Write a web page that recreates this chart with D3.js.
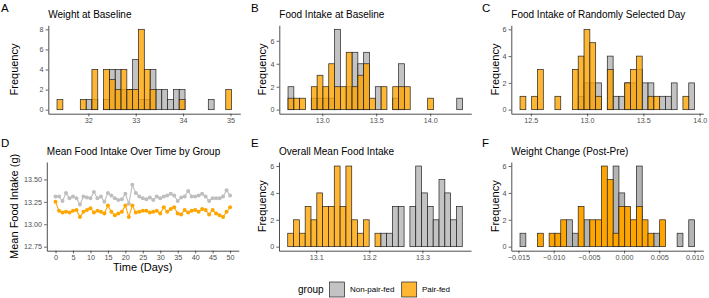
<!DOCTYPE html>
<html>
<head>
<meta charset="utf-8">
<script src="https://cdn.jsdelivr.net/npm/d3@7"></script>
<style>
  body { margin: 0; background: #fff; }
  svg { display: block; font-family: "Liberation Sans", Arial, sans-serif; }
</style>
</head>
<body>
<svg id="chart" width="709" height="298"></svg>
<script>
// ---------- data ----------
const groupNames = ['Non-pair-fed', 'Pair-fed'];

// A  weight at baseline: 30 bins, [left edge of first bin, bin width]
const weightBin = [31.339, 0.1228];
const weightPair    = [1,0,0,0,1,0,4,0,4,3,2,4,2,2,8,4,2,0,0,0,0,1,0,0,0,0,0,0,0,2];
const weightNonPair = [0,0,0,0,0,1,1,0,1,4,4,2,2,5,1,1,4,2,2,1,2,2,0,0,0,0,1,0,0,0];
const weightTicks = [32, 33, 34, 35];

// B  food intake at baseline
const baseBin = [12.683, 0.0539];
const basePair    = [1,1,1,0,2,3,2,4,2,2,5,2,3,4,1,0,2,0,2,2,2,0,0,0,1,0,0,0,0,0];
const baseNonPair = [2,0,0,0,1,1,1,1,7,0,2,5,4,5,0,2,0,0,1,4,0,0,0,0,0,0,0,0,0,1];
const baseTicks = [13.0, 13.5, 14.0];

// C  food intake of a randomly selected day
const dayBin = [12.404, 0.0517];
const dayPair    = [1,0,1,3,0,0,1,0,0,3,4,6,5,1,0,3,0,0,2,3,4,0,1,1,0,0,0,0,1,0];
const dayNonPair = [0,0,0,0,0,0,0,0,0,0,1,2,2,2,0,4,1,1,2,2,3,2,2,0,1,1,2,0,0,2];
const dayTicks = [12.5, 13.0, 13.5, 14.0];

// D  mean food intake per day, days 0..50
const days = d3.range(0, 51);
const meanNonPair = [13.31,13.31,13.26,13.35,13.29,13.31,13.29,13.22,13.31,13.30,
                     13.29,13.36,13.29,13.31,13.25,13.35,13.32,13.29,13.27,13.28,
                     13.34,13.23,13.44,13.35,13.31,13.29,13.28,13.30,13.27,13.31,
                     13.29,13.31,13.32,13.34,13.32,13.26,13.30,13.31,13.37,13.31,
                     13.31,13.32,13.34,13.31,13.26,13.29,13.29,13.29,13.31,13.38,13.32];
const meanPair    = [13.25,13.15,13.13,13.14,13.13,13.15,13.16,13.08,13.14,13.16,
                     13.18,13.13,13.15,13.14,13.12,13.21,13.14,13.10,13.12,13.14,
                     13.21,13.08,13.21,13.13,13.14,13.15,13.15,13.13,13.14,13.15,
                     13.12,13.19,13.14,13.17,13.19,13.12,13.11,13.16,13.13,13.15,
                     13.16,13.14,13.17,13.16,13.11,13.16,13.12,13.10,13.08,13.14,13.19];
const timeLimits = [12.75, 13.65];
const timeYTicks = [12.75, 13.00, 13.25, 13.50];
const timeXTicks = d3.range(0, 51, 5);

// E  overall mean food intake
const overallBin = [13.0463, 0.01096];
const overallPair    = [1,2,1,3,2,4,3,3,6,3,6,2,1,2,0,1,0,0,0,0,0,0,0,0,0,0,0,0,0,0];
const overallNonPair = [0,0,0,0,0,0,0,0,0,0,0,0,0,0,0,0,1,1,3,3,0,3,6,4,3,2,5,4,2,3];
const overallTicks = [13.1, 13.2, 13.3];

// F  weight change (post - pre)
const changeBin = [-0.014773, 0.000826];
const changePair    = [0,0,0,1,0,1,1,2,0,0,3,0,2,2,6,5,1,3,3,2,3,2,1,0,2,0,0,0,0,0];
const changeNonPair = [1,0,0,0,0,0,0,0,2,1,0,2,0,0,0,0,6,4,0,0,6,0,0,1,0,0,0,1,0,2];
const changeTicks = [-0.015, -0.010, -0.005, 0.000, 0.005, 0.010];

// ---------- drawing ----------
const svg = d3.select('#chart');
const ORANGE = '#FFA500', GREY = '#B4B4B4';
const tickCol = '#4D4D4D';
const PW = 192; // panel width
const ALPHA = 0.8;

function styleAxis(ax) {
  ax.select('.domain').attr('stroke', '#222').attr('stroke-width', 0.8);
  ax.selectAll('.tick line').attr('stroke', '#222').attr('stroke-width', 0.7);
  ax.selectAll('.tick text').attr('fill', tickCol).attr('font-size', 7.2)
    .attr('font-family', '"Liberation Sans", Arial, sans-serif');
}

function panelText(letter, title, ylab, left, top, h, lx, lyBase, ylabX) {
  svg.append('text').attr('x', lx).attr('y', lyBase).attr('font-size', 11.5).text(letter);
  svg.append('text').attr('x', left).attr('y', top - 7).attr('font-size', 10).text(title);
  svg.append('text')
    .attr('transform', `translate(${ylabX},${top + h / 2}) rotate(-90)`)
    .attr('text-anchor', 'middle').attr('font-size', 11).text(ylab);
}

function histogram(p) {
  const n = p.pair.length;
  const lo = p.bin[0], hi = p.bin[0] + n * p.bin[1];
  const pad = (hi - lo) * 0.05;
  const ymax = d3.max(p.pair.concat(p.nonPair));
  const x = d3.scaleLinear().domain([lo - pad, hi + pad]).range([0, PW]);
  const y = d3.scaleLinear().domain([-ymax * 0.05, ymax * 1.05]).range([p.h, 0]);
  const g = svg.append('g').attr('transform', `translate(${p.left},${p.top})`);

  [[p.nonPair, GREY], [p.pair, ORANGE]].forEach(([counts, col]) => {
    g.append('g').selectAll('rect')
      .data(counts.map((c, i) => ({ c, i })).filter(d => d.c > 0))
      .join('rect')
      .attr('x', d => x(lo + d.i * p.bin[1]))
      .attr('width', d => x(lo + (d.i + 1) * p.bin[1]) - x(lo + d.i * p.bin[1]))
      .attr('y', d => y(d.c))
      .attr('height', d => y(0) - y(d.c))
      .attr('fill', col).attr('fill-opacity', p.alpha)
      .attr('stroke', '#222').attr('stroke-width', 0.7);
  });

  const xa = g.append('g').attr('transform', `translate(0,${p.h})`)
    .call(d3.axisBottom(x).tickValues(p.ticks).tickSize(2.7).tickPadding(2)
      .tickFormat(p.fmt).tickSizeOuter(0));
  const ya = g.append('g')
    .call(d3.axisLeft(y).tickValues(d3.range(0, ymax + 1, 2)).tickSize(2.7).tickPadding(2)
      .tickFormat(d3.format('d')).tickSizeOuter(0));
  styleAxis(xa); styleAxis(ya);
}

const row1 = { top: 25.3, h: 88.4 };
const row2 = { top: 162.0, h: 88.7 };

histogram({ bin: weightBin, pair: weightPair, nonPair: weightNonPair, ticks: weightTicks,
  fmt: d3.format('d'), left: 48.3, top: row1.top, h: row1.h, alpha: ALPHA });
panelText('A', 'Weight at Baseline', 'Frequency', 48.3, row1.top, row1.h, 1, 11.5, 18);

histogram({ bin: baseBin, pair: basePair, nonPair: baseNonPair, ticks: baseTicks,
  fmt: d3.format('.1f'), left: 279.3, top: row1.top, h: row1.h, alpha: ALPHA });
panelText('B', 'Food Intake at Baseline', 'Frequency', 279.3, row1.top, row1.h, 251, 11.5, 266);

histogram({ bin: dayBin, pair: dayPair, nonPair: dayNonPair, ticks: dayTicks,
  fmt: d3.format('.1f'), left: 511.3, top: row1.top, h: row1.h, alpha: ALPHA });
panelText('C', 'Food Intake of Randomly Selected Day', 'Frequency', 511.3, row1.top, row1.h, 482, 11.5, 499);

histogram({ bin: overallBin, pair: overallPair, nonPair: overallNonPair, ticks: overallTicks,
  fmt: d3.format('.1f'), left: 279.0, top: row2.top, h: row2.h, alpha: ALPHA });
panelText('E', 'Overall Mean Food Intake', 'Frequency', 279.0, row2.top, row2.h, 251, 147, 266);

histogram({ bin: changeBin, pair: changePair, nonPair: changeNonPair, ticks: changeTicks,
  fmt: d3.format('.3f'), left: 511.3, top: row2.top, h: row2.h, alpha: 1 });
panelText('F', 'Weight Change (Post-Pre)', 'Frequency', 511.3, row2.top, row2.h, 482, 147, 499);

// D: line chart
(function () {
  const left = 46.8, top = row2.top, h = row2.h;
  const span = timeLimits[1] - timeLimits[0];
  const x = d3.scaleLinear().domain([-2.5, 52.5]).range([0, PW]);
  const y = d3.scaleLinear().domain([timeLimits[0] - span * 0.05, timeLimits[1] + span * 0.05]).range([h, 0]);
  const g = svg.append('g').attr('transform', `translate(${left},${top})`);
  const line = d3.line().x((d, i) => x(days[i])).y(d => y(d));
  [[meanNonPair, '#BEBEBE'], [meanPair, ORANGE]].forEach(([vals, col]) => {
    g.append('path').attr('d', line(vals)).attr('fill', 'none')
      .attr('stroke', col).attr('stroke-width', 1.1);
    g.append('g').selectAll('circle').data(vals).join('circle')
      .attr('cx', (d, i) => x(days[i])).attr('cy', d => y(d)).attr('r', 2)
      .attr('fill', col);
  });
  const xa = g.append('g').attr('transform', `translate(0,${h})`)
    .call(d3.axisBottom(x).tickValues(timeXTicks).tickSize(2.7).tickPadding(2).tickSizeOuter(0));
  const ya = g.append('g')
    .call(d3.axisLeft(y).tickValues(timeYTicks).tickSize(2.7).tickPadding(2)
      .tickFormat(d3.format('.2f')).tickSizeOuter(0));
  styleAxis(xa); styleAxis(ya);
  panelText('D', 'Mean Food Intake Over Time by Group', 'Mean Food Intake (g)', left, top, h, 1, 147, 18);
  svg.append('text').attr('x', left + PW / 2).attr('y', 271).attr('text-anchor', 'middle')
    .attr('font-size', 11).text('Time (Days)');
})();

// legend
const leg = svg.append('g');
leg.append('text').attr('x', 298).attr('y', 292.5).attr('font-size', 10).text('group');
const keyX = [329.5, 401.7], labX = [350, 422];
[GREY, ORANGE].forEach((col, i) => {
  leg.append('rect').attr('x', keyX[i]).attr('y', 282).attr('width', 15).attr('height', 15)
    .attr('fill', col).attr('fill-opacity', ALPHA).attr('stroke', '#222').attr('stroke-width', 0.7);
  leg.append('text').attr('x', labX[i]).attr('y', 292).attr('font-size', 8).text(groupNames[i]);
});
</script>
</body>
</html>
